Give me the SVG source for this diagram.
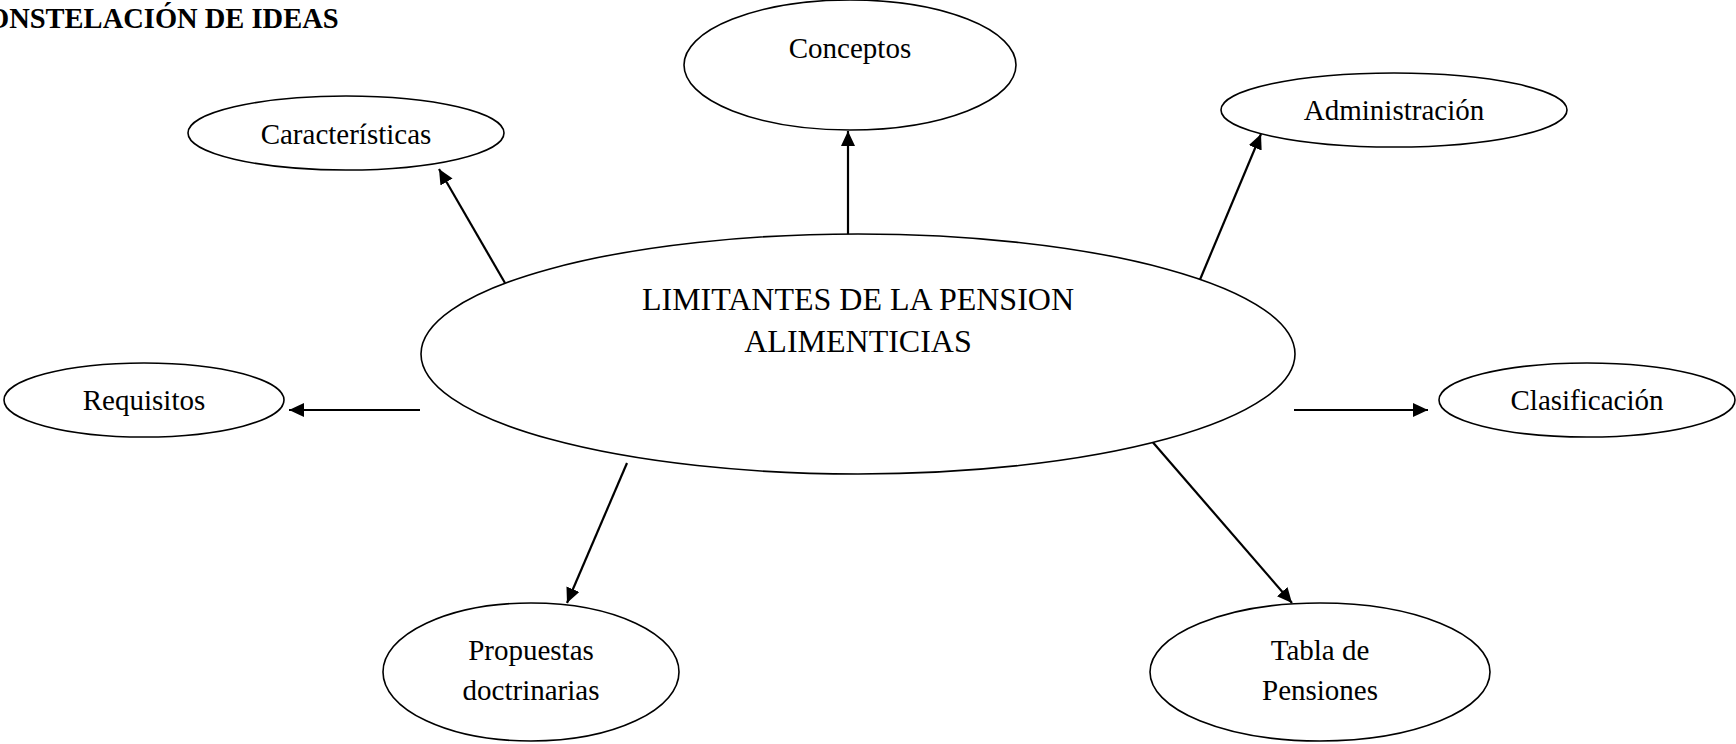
<svg xmlns="http://www.w3.org/2000/svg" width="1736" height="744" viewBox="0 0 1736 744">
<style>
.node ellipse{fill:#fff;stroke:#000;stroke-width:1.6}
.lbl{font-family:"Liberation Serif","Times New Roman",serif;font-size:29px;fill:#000;text-anchor:middle}
.main{font-size:32px}
.title{font-family:"Liberation Serif","Times New Roman",serif;font-size:28.5px;font-weight:bold;fill:#000}
.conn line{stroke:#000;stroke-width:2.2}
</style>
<defs>
<marker id="ah" markerUnits="userSpaceOnUse" markerWidth="16" markerHeight="14" refX="15" refY="7" orient="auto">
<path d="M0,0 L15,7 L0,14 z" fill="#000"/>
</marker>
</defs>
<rect width="1736" height="744" fill="#fff"/>
<text class="title" x="-13" y="28">ONSTELACIÓN DE IDEAS</text>
<g class="conn">
<line x1="848" y1="235" x2="848" y2="131" marker-end="url(#ah)"/>
<line x1="505" y1="283" x2="439" y2="169" marker-end="url(#ah)"/>
<line x1="1199" y1="282" x2="1261" y2="134" marker-end="url(#ah)"/>
<line x1="420" y1="410" x2="289" y2="410" marker-end="url(#ah)"/>
<line x1="1294" y1="410" x2="1428" y2="410" marker-end="url(#ah)"/>
<line x1="627" y1="463" x2="567" y2="603" marker-end="url(#ah)"/>
<line x1="1150" y1="439" x2="1292" y2="603" marker-end="url(#ah)"/>
</g>
<g id="central" class="node">
<ellipse cx="858" cy="354" rx="437" ry="120"/>
<text class="lbl main" x="858" y="310">LIMITANTES DE LA PENSION</text>
<text class="lbl main" x="858" y="352">ALIMENTICIAS</text>
</g>
<g id="conceptos" class="node">
<ellipse cx="850" cy="65" rx="166" ry="65"/>
<text class="lbl" x="850" y="58">Conceptos</text>
</g>
<g id="caracteristicas" class="node">
<ellipse cx="346" cy="133" rx="158" ry="37"/>
<text class="lbl" x="346" y="144">Características</text>
</g>
<g id="administracion" class="node">
<ellipse cx="1394" cy="110" rx="173" ry="37"/>
<text class="lbl" x="1394" y="120">Administración</text>
</g>
<g id="requisitos" class="node">
<ellipse cx="144" cy="400" rx="140" ry="37"/>
<text class="lbl" x="144" y="410">Requisitos</text>
</g>
<g id="clasificacion" class="node">
<ellipse cx="1587" cy="400" rx="148" ry="37"/>
<text class="lbl" x="1587" y="410">Clasificación</text>
</g>
<g id="propuestas" class="node">
<ellipse cx="531" cy="672" rx="148" ry="69"/>
<text class="lbl" x="531" y="660">Propuestas</text>
<text class="lbl" x="531" y="700">doctrinarias</text>
</g>
<g id="tabla" class="node">
<ellipse cx="1320" cy="672" rx="170" ry="69"/>
<text class="lbl" x="1320" y="660">Tabla de</text>
<text class="lbl" x="1320" y="700">Pensiones</text>
</g>
</svg>
